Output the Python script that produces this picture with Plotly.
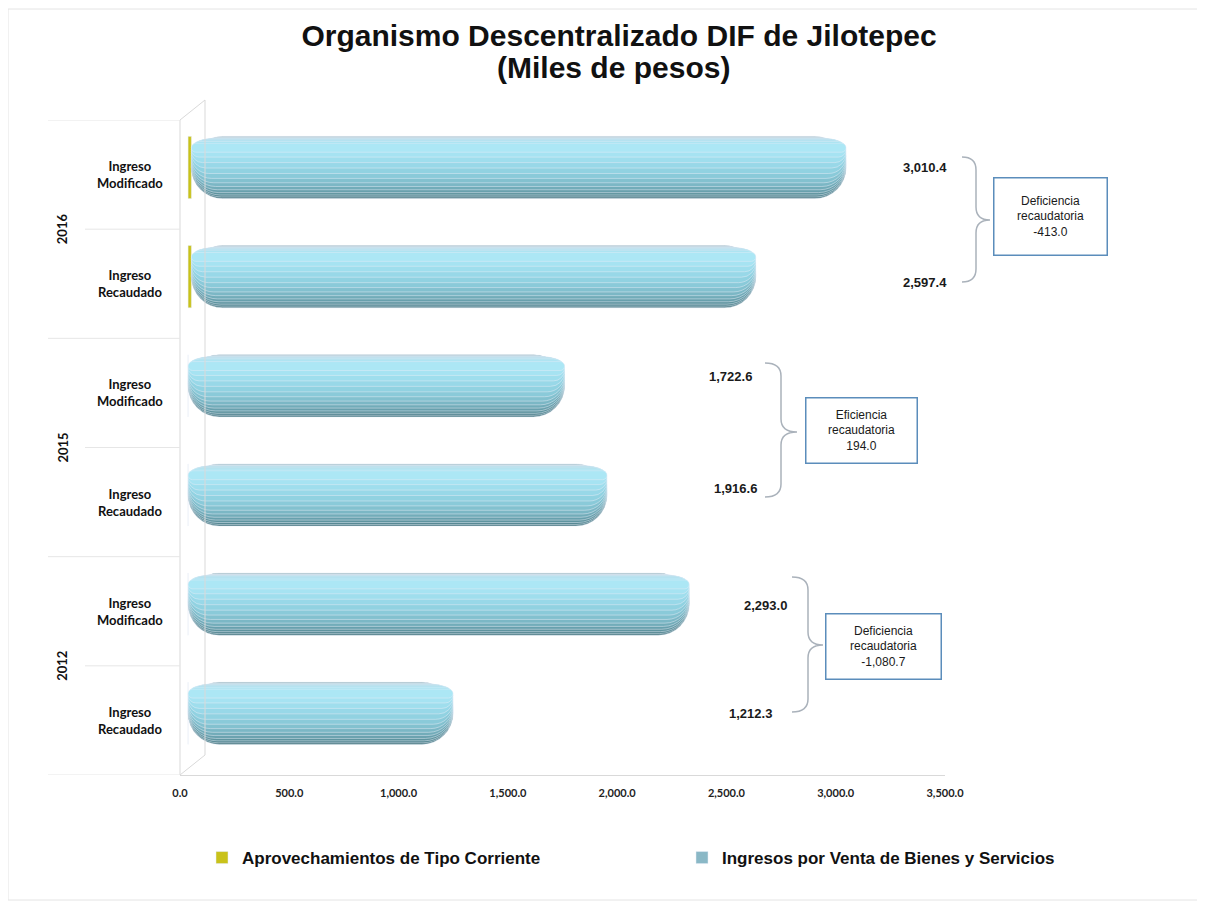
import plotly.graph_objects as go

# ─────────────────────────────────────────
# DATOS (miles de pesos)
# ─────────────────────────────────────────
anios = ["2012", "2015", "2016"]
conceptos = ["Ingreso<br>Recaudado", "Ingreso<br>Modificado"]

# filas de abajo hacia arriba: 2012 Rec, 2012 Mod, 2015 Rec, 2015 Mod, 2016 Rec, 2016 Mod
total_ingreso = [1212.3, 2293.0, 1916.6, 1722.6, 2597.4, 3010.4]
aprovechamientos = [0.0, 0.0, 0.0, 0.0, 15.0, 15.0]
ventas_bienes = [1212.3, 2293.0, 1916.6, 1722.6, 2582.4, 2995.4]

filas = list(range(len(total_ingreso)))

# ─────────────────────────────────────────
# GEOMETRÍA (pixeles de pantalla; la página tiene 8 px de margen)
# ─────────────────────────────────────────
OFF = 8
L, R, T, B = 180, 945, 120, 775
W, H = 1205 - OFF, 905 - OFF
PROF = 37  # profundidad 3D de las barras, en unidades del eje


def px(xp):
    return (xp - L) / (R - L)


def py(yp):
    return (B - yp) / (B - T)


fig = go.Figure()

ANCHO = 0.57
SUBE = 0.065  # las barras se ven un poco más arriba (perspectiva)
# Aprovechamientos (amarillo)
fig.add_trace(go.Bar(
    y=filas, x=aprovechamientos, orientation="h", xaxis="x2",
    width=ANCHO, offset=-ANCHO / 2 + SUBE,
    marker=dict(color="#c9c21a"),
    name="Aprovechamientos de Tipo Corriente",
    hoverinfo="x", legend="legend",
))

# Cilindro: varias capas superpuestas para simular el volumen
capas = [
    (-0.285, 0.285, "#4a7a84"),
    (-0.270, 0.280, "#548792"),
    (-0.252, 0.277, "#5e949f"),
    (-0.230, 0.274, "#68a0ad"),
    (-0.204, 0.272, "#72acb9"),
    (-0.174, 0.270, "#7bb7c5"),
    (-0.140, 0.268, "#83c1cf"),
    (-0.100, 0.266, "#8acad9"),
    (-0.055, 0.263, "#91d2e1"),
    (-0.005, 0.258, "#98d8e8"),
    (0.045, 0.250, "#9fdeed"),
    (0.095, 0.238, "#a6e3f2"),
    (0.140, 0.222, "#ace7f5"),
]
for i, (y0, y1, col) in enumerate(capas):
    fig.add_trace(go.Bar(
        y=filas, x=ventas_bienes, base=aprovechamientos, orientation="h",
        xaxis="x2", width=y1 - y0, offset=y0 + SUBE,
        marker=dict(color=col, cornerradius="50%"),
        name="Ingresos por Venta de Bienes y Servicios",
        showlegend=False, hoverinfo="skip" if i else "x",
    ))

# entrada de leyenda para el segundo concepto
fig.add_trace(go.Bar(
    y=[None], x=[None], orientation="h",
    marker=dict(color="#8ab8c6"),
    name="Ingresos por Venta de Bienes y Servicios",
    legend="legend2",
))

shapes = []
annotations = []
gris = "#d9d9d9"

# pared 3D izquierda
for (x0, y0, x1, y1) in [(180, 775, 180, 120), (205, 755, 205, 100),
                         (180, 120, 205, 100), (180, 775, 205, 755)]:
    shapes.append(dict(type="line", xref="paper", yref="paper",
                       x0=px(x0), y0=py(y0), x1=px(x1), y1=py(y1),
                       line=dict(color=gris, width=1)))

# divisiones de categorías
for k in range(len(filas) + 1):
    yk = k - 0.5
    x_ini = 48 if k % 2 == 0 else 85
    shapes.append(dict(type="line", xref="paper", yref="y",
                       x0=px(x_ini), x1=px(180), y0=yk, y1=yk,
                       line=dict(color="#e6e6e6", width=1)))

# marco exterior
shapes.append(dict(type="rect", xref="paper", yref="paper",
                   x0=px(8), y0=py(9), x1=px(1200), y1=py(900),
                   line=dict(color="#e4e4e4", width=1)))

# etiquetas de categorías
for f in filas:
    annotations.append(dict(xref="paper", yref="y", x=px(130), y=f,
                            xanchor="center", yanchor="middle",
                            text=conceptos[f % 2], showarrow=False, align="center",
                            font=dict(family="Lato, Liberation Sans", size=13,
                                      color="#111111", weight="bold")))
for j, anio in enumerate(anios):
    annotations.append(dict(xref="paper", yref="y", x=px(62), y=2 * j + 0.5,
                            xanchor="center", yanchor="middle",
                            text=anio, textangle=-90, showarrow=False,
                            font=dict(family="Lato, Liberation Sans", size=13,
                                      color="#111111", weight="bold")))

# etiquetas de valores, llaves y cuadros de eficiencia
pos_valores = [(750, 713), (765, 605), (735, 488), (730, 376), (925, 282), (925, 167)]
llaves = [(792, 808, 823, 577, 712, 645), (765, 781, 797, 363, 497, 432),
          (962, 976, 990, 157, 282, 220)]
cuadros = [(883, 646, 110, 60), (861, 430, 106, 60), (1050, 216, 108, 72)]

for f in filas:
    xv, yv = pos_valores[f]
    annotations.append(dict(xref="paper", yref="paper", x=px(xv), y=py(yv),
                            xanchor="center", yanchor="middle",
                            text=f"{total_ingreso[f]:,.1f}", showarrow=False,
                            font=dict(family="Liberation Sans", size=13,
                                      color="#1a1a1a", weight="bold")))


def llave(x0, x1, x2, y1, y2, ym, r=13):
    p = [(x0, y1), (x1, y1), (x1, y1 + r), (x1, ym - r), (x1, ym), (x2, ym),
         (x1, ym), (x1, ym + r), (x1, y2 - r), (x1, y2), (x0, y2)]
    q = [(px(a), py(b)) for a, b in p]
    return ("M {0[0]},{0[1]} Q {1[0]},{1[1]} {2[0]},{2[1]} L {3[0]},{3[1]} "
            "Q {4[0]},{4[1]} {5[0]},{5[1]} Q {6[0]},{6[1]} {7[0]},{7[1]} "
            "L {8[0]},{8[1]} Q {9[0]},{9[1]} {10[0]},{10[1]}").format(*q)


for j in range(len(anios)):
    rec, mod = total_ingreso[2 * j], total_ingreso[2 * j + 1]
    dif = rec - mod
    shapes.append(dict(type="path", xref="paper", yref="paper",
                       path=llave(*llaves[j]),
                       line=dict(color="#aab2bb", width=1.5)))
    etiqueta = "Eficiencia" if dif >= 0 else "Deficiencia"
    cx, cy, cw, ch = cuadros[j]
    annotations.append(dict(xref="paper", yref="paper", x=px(cx), y=py(cy),
                            xanchor="center", yanchor="middle",
                            text=f"{etiqueta}<br>recaudatoria<br>{dif:,.1f}",
                            showarrow=False, align="center", width=cw, height=ch,
                            bordercolor="#5b8dbb", borderwidth=1.5, borderpad=2,
                            bgcolor="white",
                            font=dict(family="Liberation Sans", size=12,
                                      color="#1a1a1a")))

# segunda línea del título
annotations.append(dict(xref="paper", yref="paper", x=px(613), y=py(68),
                        xanchor="center", yanchor="middle", showarrow=False,
                        text="<b>(Miles de pesos)</b>",
                        font=dict(family="Liberation Sans", size=30, color="#111111")))

fuente_leyenda = dict(family="Liberation Sans", size=17,
                      color="#111111", weight="bold")

fig.update_layout(
    width=W, height=H,
    margin=dict(l=L - OFF, r=W - (R - OFF), t=T - OFF, b=H - (B - OFF), autoexpand=False),
    paper_bgcolor="white", plot_bgcolor="white",
    barmode="overlay",
    title=dict(text="<b>Organismo Descentralizado DIF de Jilotepec</b>",
               x=611 / W, xanchor="center", y=1 - (35 - OFF) / H, yanchor="middle",
               font=dict(family="Liberation Sans", size=30, color="#111111")),
    xaxis=dict(range=[0, 3500], tickvals=[0, 500, 1000, 1500, 2000, 2500, 3000, 3500],
               tickformat=",.1f", showgrid=False, zeroline=False,
               showline=True, linecolor=gris, linewidth=1,
               ticks="outside", ticklen=8, tickcolor="rgba(0,0,0,0)",
               tickfont=dict(family="Lato, Liberation Sans", size=11,
                             color="#222222", weight="bold")),
    # plano trasero desplazado (profundidad 3D) donde se dibujan los cilindros
    xaxis2=dict(range=[-PROF, 3500 - PROF], overlaying="x", visible=False),
    yaxis=dict(range=[-0.5, 5.5], showticklabels=False, showgrid=False,
               zeroline=False, showline=False),
    legend=dict(orientation="h", x=px(202), y=py(858), xanchor="left", yanchor="middle",
                itemwidth=30, font=fuente_leyenda),
    legend2=dict(orientation="h", x=px(682), y=py(858), xanchor="left", yanchor="middle",
                 itemwidth=30, font=fuente_leyenda),
    shapes=shapes,
    annotations=annotations,
    showlegend=True,
)

fig.write_html("out.html")
